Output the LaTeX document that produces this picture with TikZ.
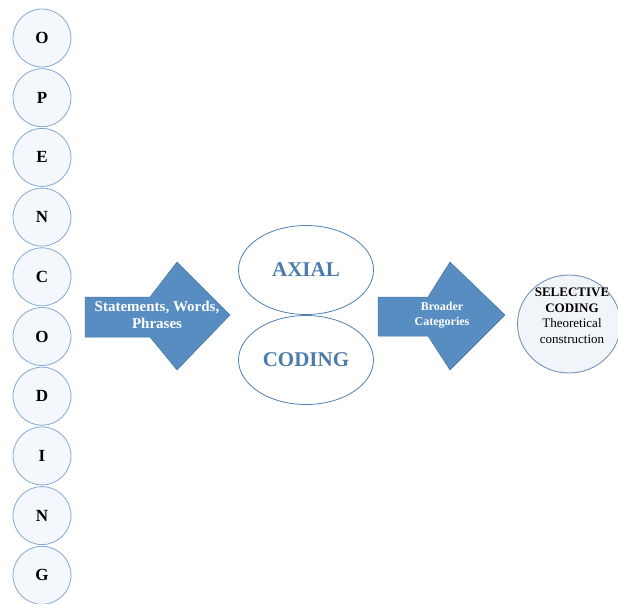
\documentclass[tikz,border=0pt]{standalone}
\usepackage{fontspec}
\setmainfont{Liberation Serif}
\usetikzlibrary{shapes.geometric}

\definecolor{arrowblue}{RGB}{88,141,193}
\definecolor{arrowedge}{RGB}{72,118,165}
\definecolor{ringblue}{RGB}{130,170,210}
\definecolor{ringfill}{RGB}{244,247,251}
\definecolor{ovalblue}{RGB}{80,128,180}
\definecolor{textblue}{RGB}{76,124,172}
\definecolor{selfill}{RGB}{241,244,249}
\definecolor{seledge}{RGB}{105,135,175}

\tikzset{
  letter/.style={circle, draw=ringblue, fill=ringfill, minimum size=58pt, inner sep=0pt,
    font=\fontsize{17}{17}\selectfont\bfseries},
  oval/.style={ellipse, draw=ovalblue, fill=white, minimum width=135pt, minimum height=89pt,
    inner sep=0pt, text=textblue, font=\fontsize{21}{21}\selectfont\bfseries},
  bigarrow/.style={fill=arrowblue, draw=arrowedge, line width=0.5pt},
  arrowtext/.style={white, align=center, inner sep=0pt},
}

\begin{document}
\begin{tikzpicture}[x=1pt, y=-1pt, line width=0.8pt]
\useasboundingbox (0,0) rectangle (618,604);

% open coding column
\foreach \ch [count=\i from 0] in {O,P,E,N,C,O,D,I,N,G}
  \node[letter] (open\i) at (42, 38+59.7*\i) {\ch};

% first arrow
\filldraw[bigarrow] (85,297) -- (150,297) -- (177,262) -- (230,315)
  -- (177,370) -- (150,337) -- (85,337) -- cycle;
\node[arrowtext, font=\fontsize{15}{17}\selectfont\bfseries] (phrases) at (157,315)
  {Statements, Words,\\Phrases};

% axial coding
\node[oval] (axial) at (306,270) {AXIAL};
\node[oval] (coding) at (306,360) {CODING};

% second arrow
\filldraw[bigarrow] (378,297) -- (428,297) -- (450,262) -- (505,315)
  -- (450,370) -- (428,336) -- (378,336) -- cycle;
\node[arrowtext, font=\fontsize{12}{15}\selectfont\bfseries] (broader) at (442,315)
  {Broader\\Categories};

% selective coding
\node[ellipse, draw=seledge, fill=selfill, minimum width=103pt, minimum height=98pt,
  inner sep=0pt] (selective) at (569,324) {};
\node[align=center, inner sep=0pt, font=\fontsize{13}{15.5}\selectfont] (theory) at (572,316)
  {\textbf{SELECTIVE}\\\textbf{CODING}\\Theoretical\\construction};
\end{tikzpicture}
\end{document}
